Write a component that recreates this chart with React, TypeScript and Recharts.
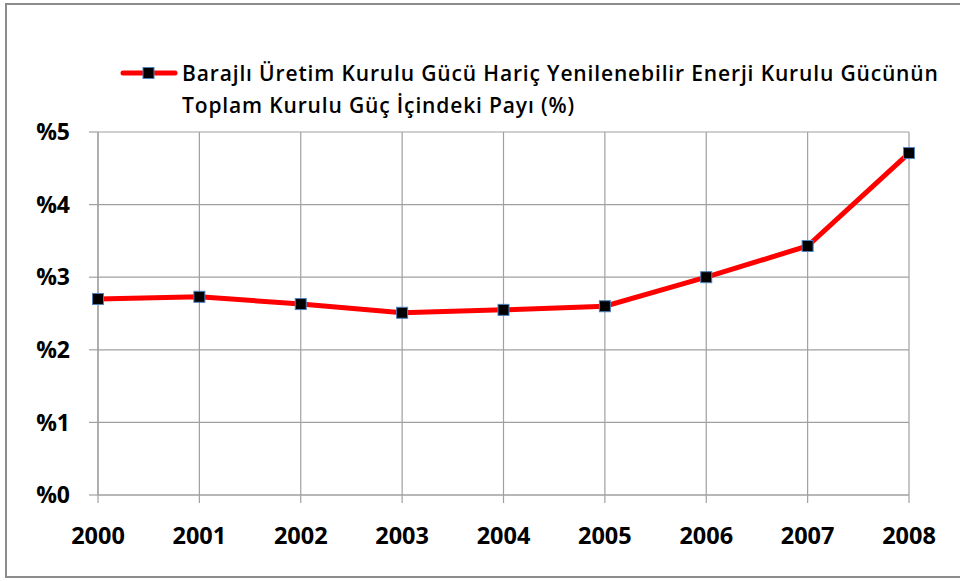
import { LineChart, Line, XAxis, YAxis, CartesianGrid } from 'recharts'

const years = ['2000', '2001', '2002', '2003', '2004', '2005', '2006', '2007', '2008']
const shares = [2.7, 2.73, 2.63, 2.51, 2.55, 2.6, 3.0, 3.43, 4.71]
const yTicks = [0, 1, 2, 3, 4, 5]
const seriesLabelLines = [
  'Barajlı Üretim Kurulu Gücü Hariç Yenilenebilir Enerji Kurulu Gücünün',
  'Toplam Kurulu Güç İçindeki Payı (%)',
]

const data = years.map((year, i) => ({ year, value: shares[i] }))

const FONT = '"Open Sans", Lato, sans-serif'

const SquareDot = (props: any) => {
  const { cx, cy } = props
  if (cx == null || cy == null) return null
  return <rect x={cx - 5.5} y={cy - 5.5} width={11} height={11} fill="#000" stroke="#4f81bd" strokeWidth={1} />
}

// legend sits above the plot, drawn as plain html so it doesn't push the plot down
const SeriesLegend = () => (
  <div
    style={{
      position: 'absolute',
      left: 120,
      top: 57,
      display: 'flex',
      alignItems: 'flex-start',
      fontFamily: FONT,
      fontWeight: 600,
      fontSize: 21,
      letterSpacing: 0.85,
      color: '#000',
    }}
  >
    <svg width={62} height={32} style={{ flexShrink: 0 }}>
      <line x1={3} y1={16} x2={55} y2={16} stroke="#ff0000" strokeWidth={5} strokeLinecap="round" />
      <rect x={23} y={10.5} width={11} height={11} fill="#000" stroke="#4f81bd" strokeWidth={1} />
    </svg>
    <div style={{ lineHeight: '32px', whiteSpace: 'nowrap' }}>
      {seriesLabelLines.map((t) => (
        <div key={t}>{t}</div>
      ))}
    </div>
  </div>
)

export default function App() {
  return (
    <div style={{ position: 'absolute', left: 0, top: 0, width: 960, height: 581, overflow: 'hidden', background: '#fff' }}>
      <div
        style={{
          position: 'absolute',
          left: 5,
          top: 3,
          width: 980,
          height: 575,
          border: '2px solid #8c8c8c',
          boxSizing: 'border-box',
        }}
      />
      <div style={{ position: 'absolute', left: 0, top: 0 }}>
        <LineChart width={960} height={581} data={data} margin={{ top: 132, right: 51, left: 8, bottom: 0 }}>
          <CartesianGrid stroke="#a0a0a0" strokeWidth={1.2} />
          <XAxis
            dataKey="year"
            stroke="#a0a0a0"
            strokeWidth={1.2}
            tickSize={8}
            tickMargin={24}
            height={86}
            interval={0}
            padding={{ left: 0, right: 0 }}
            tick={{ fill: '#000', fontFamily: FONT, fontWeight: 700, fontSize: 23.5 }}
          />
          <YAxis
            domain={[0, 5]}
            ticks={yTicks}
            width={90}
            stroke="#a0a0a0"
            strokeWidth={1.2}
            tickSize={9}
            tickMargin={19}
            tickFormatter={(v: number) => `%${v}`}
            tick={{ fill: '#000', fontFamily: FONT, fontWeight: 700, fontSize: 23 }}
          />
          <Line
            type="linear"
            dataKey="value"
            stroke="#ff0000"
            strokeWidth={5}
            dot={<SquareDot />}
            activeDot={false}
            isAnimationActive={false}
          />
        </LineChart>
      </div>
      <SeriesLegend />
    </div>
  )
}
